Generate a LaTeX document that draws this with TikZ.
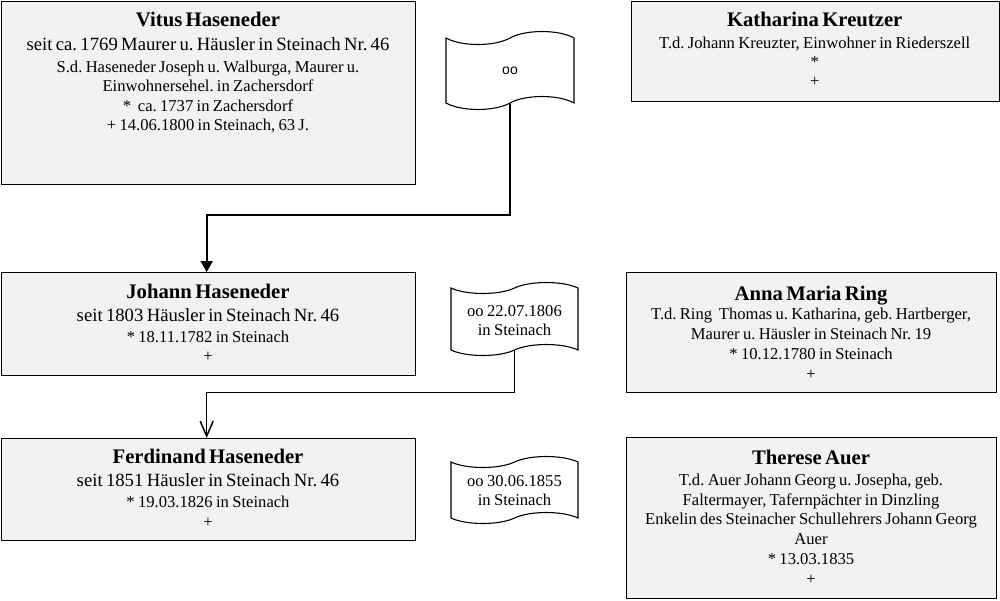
\documentclass[tikz,border=0pt]{standalone}
\usepackage{fontspec}
\setmainfont{Liberation Serif}
\newfontfamily\arialf{Liberation Sans}
\usetikzlibrary{arrows.meta}
\frenchspacing
\definecolor{boxgray}{HTML}{F2F2F2}
\newcommand\ttl[1]{{\fontsize{20.7}{20.7}\selectfont\bfseries #1\par}}
\newcommand\lgl[2]{{\fontsize{18.7}{#1}\selectfont #2\par}}
\newcommand\sml[2]{{\fontsize{16.6}{#1}\selectfont #2\par}}
\newcommand\flagshape[5]{%
  \begin{scope}[shift={(#1,-#2)}]
    \draw[flagline] (0,0)
      .. controls (0.12*#3,-1.33*#5) and (0.38*#3,-1.33*#5) .. (0.5*#3,0)
      .. controls (0.62*#3,1.33*#5) and (0.88*#3,1.33*#5) .. (#3,0)
      -- (#3,-#4)
      .. controls (0.88*#3,-#4+1.33*#5) and (0.62*#3,-#4+1.33*#5) .. (0.5*#3,-#4)
      .. controls (0.38*#3,-#4-1.33*#5) and (0.12*#3,-#4-1.33*#5) .. (0,-#4)
      -- cycle;
  \end{scope}}
\begin{document}
\begin{tikzpicture}[x=1pt,y=1pt,
  box/.style={draw=black, fill=boxgray, line width=1.3pt, inner sep=0pt, anchor=north west},
  txt/.style={anchor=base, inner sep=0pt, text width=#1, align=center},
  txt/.default=440pt,
  flagline/.style={draw=black, line width=1.1pt},
  conA/.style={line width=2pt, -{Triangle[length=11pt,width=12pt]}},
  conB/.style={line width=1.5pt, -{Straight Barb[length=15pt,width=13pt]}}]
\useasboundingbox (0,0) rectangle (1000,-600);

% boxes
\node[box, minimum width=414pt, minimum height=183pt] (vitus) at (1,-1) {};
\node[box, minimum width=368.5pt, minimum height=100pt] (kath) at (630.5,-1) {};
\node[box, minimum width=414pt, minimum height=103pt] (johann) at (1,-272) {};
\node[box, minimum width=370pt, minimum height=120pt] (anna) at (626,-272) {};
\node[box, minimum width=414pt, minimum height=102pt] (ferd) at (1,-438) {};
\node[box, minimum width=370pt, minimum height=161pt] (therese) at (626,-437) {};

% texts
\node[txt] (vitusT) at (208,-26.7) {\ttl{Vitus Haseneder}%
  \lgl{23.3}{seit ca. 1769 Maurer u. H\"ausler in Steinach Nr. 46}%
  \sml{22.7}{S.d. Haseneder Joseph u. Walburga, Maurer u.}%
  \sml{19}{Einwohnersehel. in Zachersdorf}%
  \sml{19.3}{*\ \ ca. 1737 in Zachersdorf}%
  \sml{19}{+ 14.06.1800 in Steinach, 63 J.}};

\node[txt] (kathT) at (814.7,-26.7) {\ttl{Katharina Kreutzer}%
  \sml{21.6}{T.d. Johann Kreuzter, Einwohner in Riederszell}%
  \sml{19}{*}%
  \sml{19.5}{+}};

\node[txt] (johannT) at (208,-298.3) {\ttl{Johann Haseneder}%
  \lgl{23.4}{seit 1803 H\"ausler in Steinach Nr. 46}%
  \sml{20.6}{* 18.11.1782 in Steinach}%
  \sml{19.6}{+}};

\node[txt] (annaT) at (811,-300) {\ttl{Anna Maria Ring}%
  \sml{19.3}{T.d. Ring\ \ Thomas u. Katharina, geb. Hartberger,}%
  \sml{19.7}{Maurer u. H\"ausler in Steinach Nr. 19}%
  \sml{20}{* 10.12.1780 in Steinach}%
  \sml{20}{+}};

\node[txt] (ferdT) at (208,-463.3) {\ttl{Ferdinand Haseneder}%
  \lgl{23.4}{seit 1851 H\"ausler in Steinach Nr. 46}%
  \sml{20.6}{* 19.03.1826 in Steinach}%
  \sml{19.7}{+}};

\node[txt] (thereseT) at (811,-464.3) {\ttl{Therese Auer}%
  \sml{20.7}{T.d. Auer Johann Georg u. Josepha, geb.}%
  \sml{20}{Faltermayer, Tafernp\"achter in Dinzling}%
  \sml{19.3}{Enkelin des Steinacher Schullehrers Johann Georg}%
  \sml{20}{Auer}%
  \sml{19.7}{* 13.03.1835}%
  \sml{20}{+}};

% flags
\flagshape{446}{38}{128}{65}{6.5}
\node[anchor=base, inner sep=0pt, font=\arialf\fontsize{14}{14}\selectfont] (f1) at (510,-74.5) {oo};
\coordinate (f1b) at (510,-103);

\flagshape{451}{288}{127}{62}{5.5}
\node[txt=130pt] (f2) at (514.5,-316.7) {\sml{16.6}{oo 22.07.1806}\sml{18.3}{in Steinach}};
\coordinate (f2b) at (514.5,-350);

\flagshape{451}{462}{127}{56}{5.5}
\node[txt=130pt] (f3) at (514.5,-486.7) {\sml{16.6}{oo 30.06.1855}\sml{18.3}{in Steinach}};

% connectors
\coordinate (k1) at (206.7,-214.5);
\coordinate (k2) at (206.7,-392.7);
\draw[conA] (f1b) |- (k1) -- (k1 |- johann.north);
\draw[conB] (f2b) |- (k2) -- (k2 |- ferd.north);
\end{tikzpicture}
\end{document}
